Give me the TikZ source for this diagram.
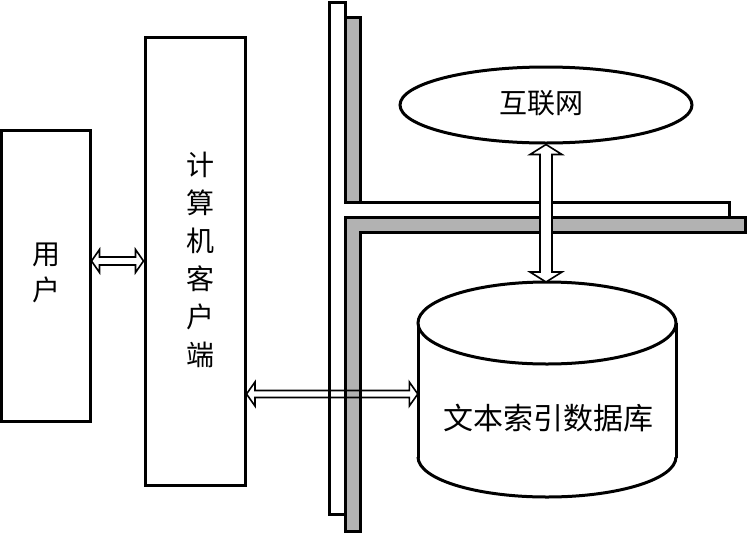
\documentclass[tikz,border=0pt]{standalone}
\usepackage{fontspec}
\newfontfamily\cjk{Noto Sans CJK SC}
\usetikzlibrary{shapes.geometric}
\newcommand{\harr}[6]{%
\draw[#1] (#2) -- ([shift={(#4,-#5)}]#2) -- ([shift={(#4,-#6)}]#2) -- ([shift={(-#4,-#6)}]#3) -- ([shift={(-#4,-#5)}]#3) -- (#3) -- ([shift={(-#4,#5)}]#3) -- ([shift={(-#4,#6)}]#3) -- ([shift={(#4,#6)}]#2) -- ([shift={(#4,#5)}]#2) -- cycle;}
\newcommand{\varr}[6]{%
\draw[#1] (#2) -- ([shift={(#5,#4)}]#2) -- ([shift={(#6,#4)}]#2) -- ([shift={(#6,-#4)}]#3) -- ([shift={(#5,-#4)}]#3) -- (#3) -- ([shift={(-#5,-#4)}]#3) -- ([shift={(-#6,-#4)}]#3) -- ([shift={(-#6,#4)}]#2) -- ([shift={(-#5,#4)}]#2) -- cycle;}
\begin{document}
\begin{tikzpicture}[x=1pt,y=-1pt,line join=miter]
\tikzset{
  box/.style={draw,line width=3pt,fill=white,inner sep=0pt},
  bar/.style={draw,line width=3pt},
  lbl/.style={font=\cjk\fontsize{28}{36}\selectfont,align=center,inner sep=0pt},
  barrow/.style={draw,line width=1.6pt},
}
\definecolor{bargray}{RGB}{178,178,178}
\fill[white] (0,0) rectangle (747,533);
\useasboundingbox (0,0) rectangle (747,533);
\coordinate (y261) at (0,261);
\coordinate (y394) at (0,394);
% bus bars
\draw[bar,fill=bargray] (345,17) -- (360,17) -- (360,217) -- (745,217) -- (745,232) -- (360,232) -- (360,531) -- (345,531) -- cycle;
\draw[bar,fill=white] (329,2) -- (345,2) -- (345,202) -- (729,202) -- (729,217) -- (345,217) -- (345,514) -- (329,514) -- cycle;
% user and client
\node[box,minimum width=89pt,minimum height=291pt] (user) at (45.5,275.5) {};
\node[lbl] (userlabel) at (46,273) {用\\户};
\node[box,minimum width=100pt,minimum height=448pt] (client) at (195,261) {};
\node[lbl,font=\cjk\fontsize{28}{38}\selectfont] (clientlabel) at (200,260) {计\\算\\机\\客\\户\\端};
% internet
\node[box,ellipse,minimum width=292pt,minimum height=76pt] (net) at (546,105) {};
\node[lbl] (netlabel) at (541,103) {互联网};
% database cylinder
\fill[white] (418,323) rectangle (676,457);
\begin{scope}
\clip (400,457) rectangle (700,520);
\draw[line width=3pt,fill=white] (547,457) ellipse [x radius=129, y radius=40];
\end{scope}
\draw[line width=3pt] (418,323) -- (418,458) (676,323) -- (676,458);
\draw[line width=3pt,fill=white] (547,323) ellipse [x radius=129, y radius=41];
\node[inner sep=0pt,minimum width=258pt,minimum height=134pt] (db) at (547,390) {};
\coordinate (dbtop) at (546,282);
\node[lbl,font=\cjk\fontsize{30}{36}\selectfont] (dblabel) at (548,418) {文本索引数据库};
% arrows
\harr{barrow,fill=white}{user.east |- y261}{client.west |- y261}{8}{11.5}{4}
\harr{barrow}{client.east |- y394}{db.west |- y394}{8.5}{12}{3.5}
\varr{barrow,fill=white}{net.south}{dbtop}{10}{16}{6}
\end{tikzpicture}
\end{document}
